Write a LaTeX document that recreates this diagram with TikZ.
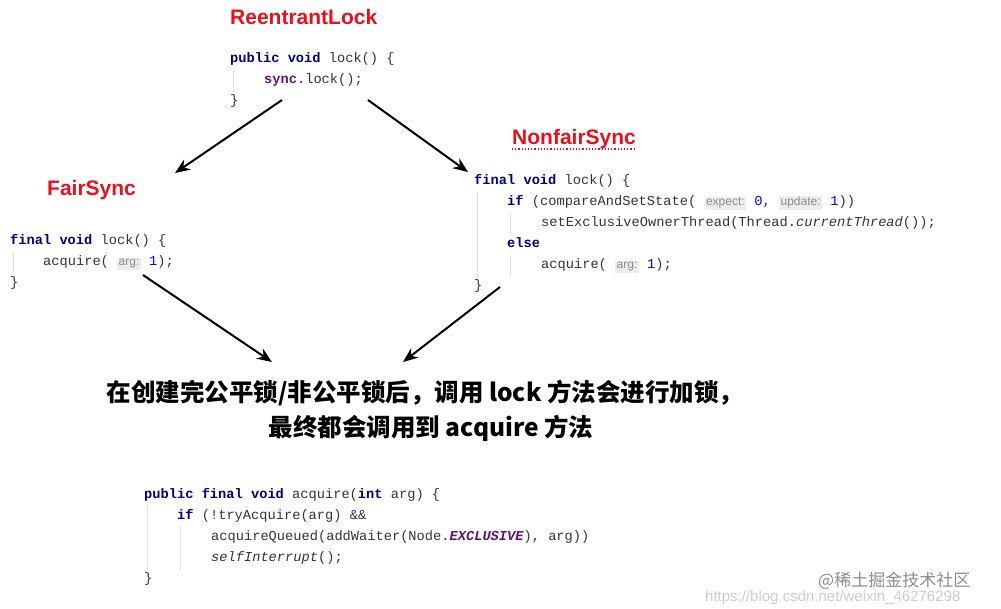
\documentclass[tikz,border=0pt]{standalone}
\usepackage{fontspec}
\usetikzlibrary{arrows.meta}
\setmainfont{Liberation Sans}
\setsansfont{Liberation Sans}
\setmonofont{Liberation Mono}
\newfontfamily\cjk{Noto Sans CJK SC}
\definecolor{kwc}{HTML}{000080}
\definecolor{purp}{HTML}{660E7A}
\definecolor{numc}{HTML}{0000FF}
\definecolor{titlered}{HTML}{E8111B}
\definecolor{hintbg}{HTML}{EDEDED}
\newcommand{\kw}[1]{\textbf{\color{kwc}#1}}
\newcommand{\num}[1]{{\color{numc}#1}}
\newcommand{\hint}[1]{{\setlength{\fboxsep}{1.5pt}\colorbox{hintbg}{\sffamily\fontsize{12}{12}\selectfont\color{gray!90}#1}}}
\begin{document}
\begin{tikzpicture}[x=1pt,y=-1pt,
  code/.style={anchor=base west,inner sep=0pt,font=\ttfamily\fontsize{13.7}{14}\selectfont,text=black!80},
  title/.style={anchor=base west,inner sep=0pt,font=\sffamily\bfseries\fontsize{21}{22}\selectfont,text=titlered},
  guide/.style={draw=black!12,line width=0.6pt},
  arr/.style={-{Stealth[length=15pt,width=12pt]},line width=2pt,black},
  cn/.style={inner sep=0pt,font=\cjk\bfseries\fontsize{24.5}{26}\selectfont},
  wm/.style={inner sep=0pt,anchor=base west,text=black!30}]
\useasboundingbox (0,0) rectangle (1001,609);
% ReentrantLock
\node[title] (rlt) at (230,25) {ReentrantLock};
\node[code] (rl1) at (230,63) {\kw{public} \kw{void} lock() \{};
\node[code] (rl2) at (264,84) {\textbf{\color{purp}sync}.lock();};
\node[code] (rl3) at (230,105) {\}};
\draw[guide] (233,70) -- (233,92);
% FairSync
\node[title] (fst) at (47,196) {FairSync};
\node[code] (fs1) at (10,245) {\kw{final} \kw{void} lock() \{};
\node[code] (fs2) at (43,266) {acquire( \hint{arg:} \num{1});};
\node[code] (fs3) at (10,287) {\}};
\draw[guide] (13,252) -- (13,274);
% NonfairSync
\node[title] (nft) at (512,145) {NonfairSync};
\draw[titlered,dotted,line width=1.2pt] (512,149) -- (634,149);
\node[code] (nf1) at (474,185) {\kw{final} \kw{void} lock() \{};
\node[code] (nf2) at (507,206) {\kw{if} (compareAndSetState( \hint{expect:} \num{0}, \hint{update:} \num{1}))};
\node[code] (nf3) at (541,227) {setExclusiveOwnerThread(Thread.\textit{currentThread}());};
\node[code] (nf4) at (507,248) {\kw{else}};
\node[code] (nf5) at (541,269) {acquire( \hint{arg:} \num{1});};
\node[code] (nf6) at (474,290) {\}};
\draw[guide] (477,192) -- (477,278);
\draw[guide] (510,213) -- (510,235);
\draw[guide] (510,255) -- (510,277);
% middle text
\node[cn] (cn1) at (425,393) {在创建完公平锁/非公平锁后，调用 lock 方法会进行加锁，};
\node[cn] (cn2) at (431,428) {最终都会调用到 acquire 方法};
% acquire
\node[code] (aq1) at (144,498) {\kw{public} \kw{final} \kw{void} acquire(\kw{int} arg) \{};
\node[code] (aq2) at (177,519) {\kw{if} (!tryAcquire(arg) \&\&};
\node[code] (aq3) at (211,540) {acquireQueued(addWaiter(Node.\textbf{\textit{\color{purp}EXCLUSIVE}}), arg))};
\node[code] (aq4) at (211,561) {\textit{selfInterrupt}();};
\node[code] (aq5) at (144,582) {\}};
\draw[guide] (147,505) -- (147,570);
\draw[guide] (180,526) -- (180,570);
% watermark
\node[wm,font=\sffamily\fontsize{15}{15}\selectfont,text=black!20] (wm2) at (705,601) {https://blog.csdn.net/weixin\_46276298};
\node[wm,font=\cjk\fontsize{17}{17}\selectfont,text=black!45] (wm1) at (818,586) {@稀土掘金技术社区};
% arrows
\coordinate (a1s) at (282,100); \coordinate (a1e) at (175,173);
\coordinate (a2s) at (368,100); \coordinate (a2e) at (468,172);
\coordinate (a3s) at (143,275); \coordinate (a3e) at (272,362);
\coordinate (a4s) at (500,287); \coordinate (a4e) at (403,362);
\draw[arr] (a1s) -- (a1e);
\draw[arr] (a2s) -- (a2e);
\draw[arr] (a3s) -- (a3e);
\draw[arr] (a4s) -- (a4e);
\end{tikzpicture}
\end{document}
